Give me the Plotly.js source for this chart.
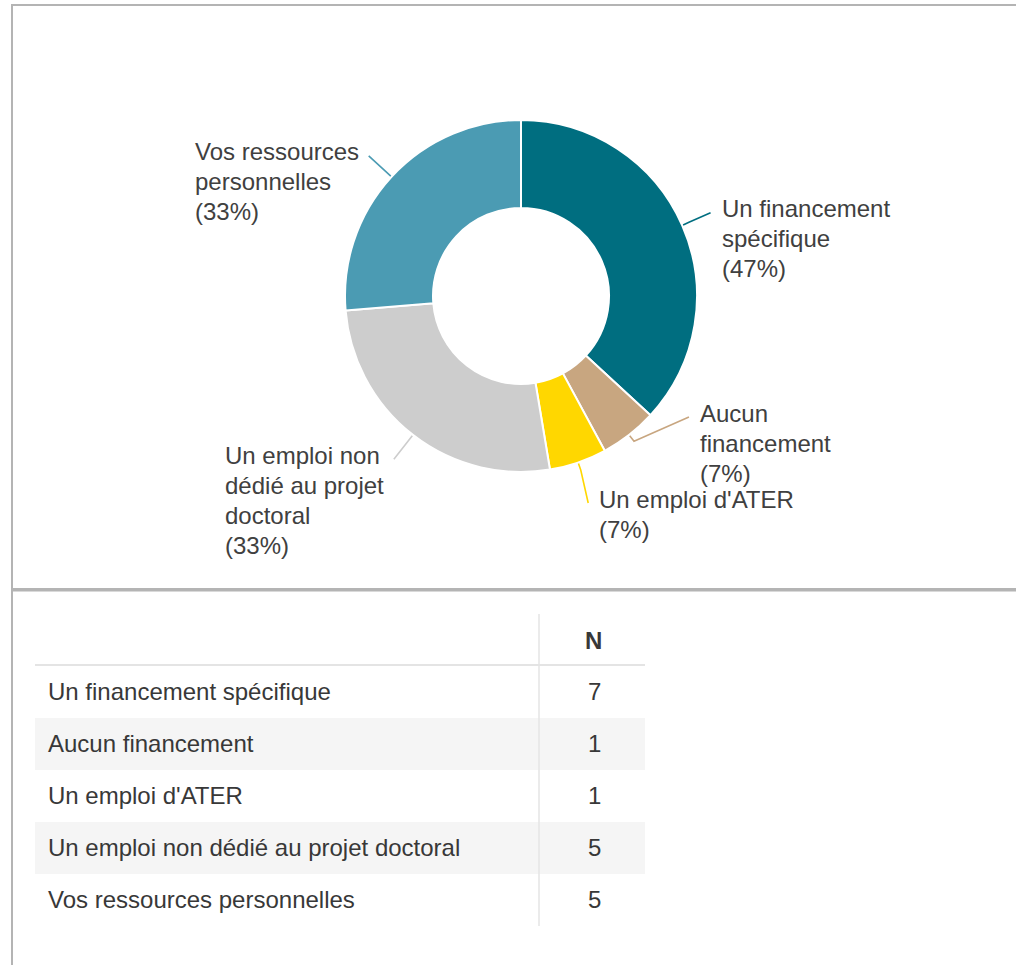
<!DOCTYPE html>
<html>
<head>
<meta charset="utf-8">
<script src="https://cdn.plot.ly/plotly-3.0.1.min.js"></script>
<style>
  html, body { margin: 0; padding: 0; background: #ffffff; overflow: hidden; }
  #chart { width: 1016px; height: 965px; }
</style>
</head>
<body>
<div id="chart"></div>
<script>
// ---------------- data ----------------
const categories = [
  "Un financement spécifique",
  "Aucun financement",
  "Un emploi d'ATER",
  "Un emploi non dédié au projet doctoral",
  "Vos ressources personnelles"
];
const counts = [7, 1, 1, 5, 5];
const percentLabels = [47, 7, 7, 33, 33];
const sliceColors = ["#006e80", "#c8a680", "#ffd700", "#cdcdcd", "#4b9bb3"];
const tableHeader = ["", "N"];

// ---------------- geometry / style ----------------
const W = 1016, H = 965;
const px = x => x / W;
const py = y => 1 - y / H;
const C = { x: 521, y: 296 };   // donut centre (px)
const R = 176;                  // outer radius (px)
const RL = R + 31;              // connector end radius
const FONT = '"Liberation Sans", Arial, sans-serif';
const LABEL_SIZE = 24;
const LINE_H = 30;
const TEXT_COLOR = "#404040";

// word wrap of label text
const ctx = document.createElement("canvas").getContext("2d");
ctx.font = LABEL_SIZE + 'px "Liberation Sans", Arial, sans-serif';
function wrap(text, maxW) {
  const words = text.split(" ");
  const lines = [];
  let cur = "";
  for (const w of words) {
    const t = cur ? cur + " " + w : w;
    if (cur && ctx.measureText(t).width > maxW) { lines.push(cur); cur = w; }
    else cur = t;
  }
  if (cur) lines.push(cur);
  return lines;
}

const total = counts.reduce((a, b) => a + b, 0);
const pt = (a, r) => ({ x: C.x + r * Math.sin(a), y: C.y - r * Math.cos(a) });

// label layout
let cum = 0;
const labels = counts.map((v, i) => {
  const a = (cum + v / 2) / total * 2 * Math.PI;
  cum += v;
  const lines = wrap(categories[i], 8.35 * LABEL_SIZE);
  lines.push("(" + percentLabels[i] + "%)");
  const nat = pt(a, RL);
  return { i, a, lines, side: Math.sin(a) >= 0 ? 1 : -1, natX: nat.x, y: nat.y };
});

function resolve(side) {
  const ls = labels.filter(l => l.side === side).sort((p, q) => p.y - q.y);
  const gap = l => l.lines.length * LINE_H - 4;
  for (let it = 0; it < 100; it++) {
    for (let k = 1; k < ls.length; k++) {
      const o = ls[k - 1].y + gap(ls[k - 1]) - ls[k].y;
      if (o > 0.01) { ls[k - 1].y -= o / 2; ls[k].y += o / 2; }
    }
  }
  // keep anchors inside the label circle, pushing neighbours only as needed
  for (let k = ls.length - 1; k >= 0; k--) {
    const lim = k === ls.length - 1 ? C.y + RL : ls[k + 1].y - gap(ls[k]);
    if (ls[k].y > lim) ls[k].y = lim;
  }
  for (let k = 0; k < ls.length; k++) {
    const lim = k === 0 ? C.y - RL : ls[k - 1].y + gap(ls[k - 1]);
    if (ls[k].y < lim) ls[k].y = lim;
  }
  ls.forEach(l => {
    const dy = l.y - C.y;
    const cx = Math.sqrt(Math.max(RL * RL - dy * dy, 0));
    l.x = side > 0 ? Math.max(l.natX, C.x + cx) : Math.min(l.natX, C.x - cx);
  });
}
resolve(1);
resolve(-1);

const shapes = [];
const annotations = [];

// connectors + labels
labels.forEach(l => {
  const s = pt(l.a, R + 1);
  const k = pt(l.a, R + 8);
  shapes.push({
    type: "path", xref: "paper", yref: "paper",
    path: `M ${px(s.x)} ${py(s.y)} L ${px(k.x)} ${py(k.y)} L ${px(l.x)} ${py(l.y)}`,
    line: { color: sliceColors[l.i], width: 1.6 }
  });
  // left-aligned block: measure widest line for left-side labels
  const blockW = Math.max(...l.lines.map(t => ctx.measureText(t).width));
  const left = l.side > 0 ? l.x + 10 : l.x - 11 - blockW;
  l.lines.forEach((t, j) => {
    annotations.push({
      xref: "paper", yref: "paper",
      x: px(left - 1),
      y: py(l.y - 4 + j * LINE_H),
      xanchor: "left",
      yanchor: "middle",
      align: "left",
      showarrow: false,
      text: t,
      font: { family: FONT, size: LABEL_SIZE, color: TEXT_COLOR }
    });
  });
});

// outer frame
const FRAME = "#b4b4b4";
const rect = (x0, y0, x1, y1, color) => ({
  type: "rect", xref: "paper", yref: "paper",
  x0: px(x0), x1: px(x1), y0: py(y0), y1: py(y1),
  fillcolor: color, line: { width: 0 }, layer: "below"
});
shapes.push(rect(11, 4, 1016, 6, FRAME));
shapes.push(rect(11, 4, 13, 965, FRAME));
shapes.push(rect(13, 588, 1016, 591.5, FRAME));

// table
const T = { left: 35, right: 645, split: 539, top: 614, headBottom: 666, rowH: 52 };
const TABLE_SIZE = 24;
const TABLE_COLOR = "#383838";
categories.forEach((c, i) => {
  const top = T.headBottom + i * T.rowH;
  if (i % 2 === 1) shapes.push(rect(T.left, top, T.right, top + T.rowH, "#f5f5f5"));
  annotations.push({
    xref: "paper", yref: "paper", x: px(T.left + 11), y: py(top + T.rowH / 2 - 0.5),
    xanchor: "left", yanchor: "middle", showarrow: false, text: c,
    font: { family: FONT, size: TABLE_SIZE, color: TABLE_COLOR }
  });
  annotations.push({
    xref: "paper", yref: "paper", x: px((T.split + T.right) / 2 + 2), y: py(top + T.rowH / 2 - 0.5),
    xanchor: "center", yanchor: "middle", showarrow: false, text: String(counts[i]),
    font: { family: FONT, size: TABLE_SIZE, color: TABLE_COLOR }
  });
});
shapes.push(rect(T.left, T.headBottom - 2, T.right, T.headBottom, "#e4e4e4"));
shapes.push(rect(T.split - 0.75, T.top, T.split + 0.75, T.headBottom + categories.length * T.rowH, "#e4e4e4"));
annotations.push({
  xref: "paper", yref: "paper", x: px((T.split + T.right) / 2 + 1), y: py(640),
  xanchor: "center", yanchor: "middle", showarrow: false,
  text: "<b>" + tableHeader[1] + "</b>",
  font: { family: FONT, size: TABLE_SIZE, color: TABLE_COLOR }
});

// donut
const trace = {
  type: "pie",
  labels: categories,
  values: counts,
  hole: 0.5,
  sort: false,
  direction: "clockwise",
  rotation: 0,
  textinfo: "none",
  hoverinfo: "skip",
  showlegend: false,
  marker: { colors: sliceColors, line: { color: "#ffffff", width: 2 } },
  domain: { x: [px(C.x - R), px(C.x + R)], y: [py(C.y + R), py(C.y - R)] }
};

const layout = {
  width: W, height: H,
  margin: { l: 0, r: 0, t: 0, b: 0 },
  paper_bgcolor: "#ffffff",
  plot_bgcolor: "#ffffff",
  showlegend: false,
  shapes, annotations
};

Plotly.newPlot("chart", [trace], layout, { displayModeBar: false, staticPlot: true });
</script>
</body>
</html>
